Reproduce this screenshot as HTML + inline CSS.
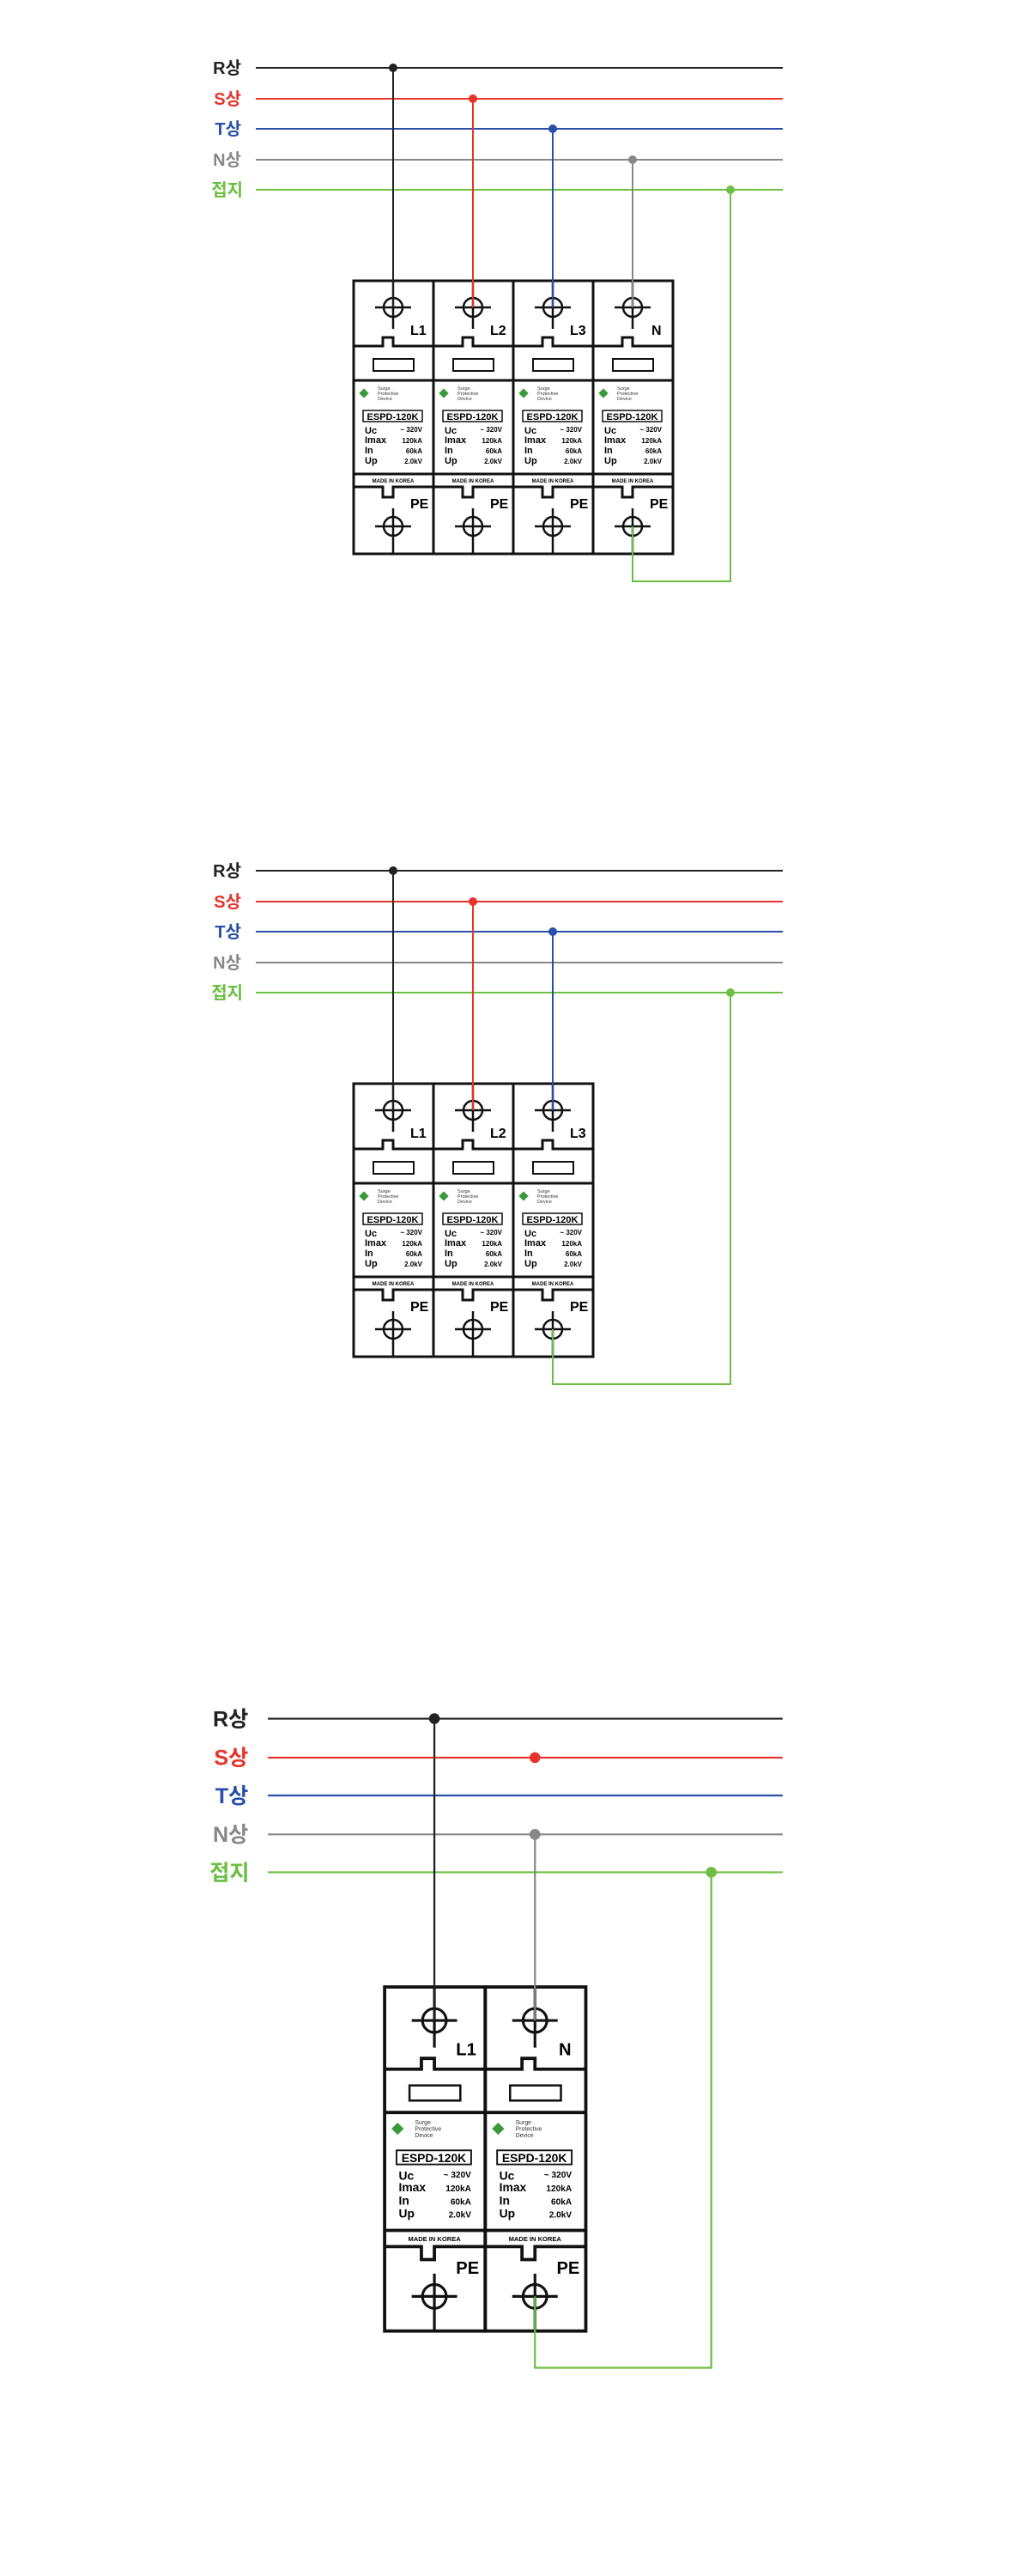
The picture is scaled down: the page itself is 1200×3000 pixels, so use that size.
<!DOCTYPE html>
<html><head><meta charset="utf-8"><style>
html,body{margin:0;padding:0;background:#fff;}
svg{display:block}
.lb{font-family:"Liberation Sans","Noto Sans CJK KR",sans-serif;font-weight:bold;font-size:20px}
.n{font-family:"Liberation Sans Narrow","Liberation Sans",sans-serif;font-weight:bold}
.m{fill:none;stroke:#111;stroke-width:3}
.t{fill:none;stroke:#111;stroke-width:2.5}
</style></head><body>
<svg width="1200" height="3000" viewBox="0 0 1200 3000" xmlns="http://www.w3.org/2000/svg">

<!-- ============ DIAGRAM 1 ============ -->
<g id="d1">
<text class="lb" x="281" y="86" text-anchor="end" fill="#222">R상</text>
<text class="lb" x="281" y="122" text-anchor="end" fill="#e8332a">S상</text>
<text class="lb" x="281" y="157" text-anchor="end" fill="#2a4fa8">T상</text>
<text class="lb" x="281" y="193" text-anchor="end" fill="#888">N상</text>
<text class="lb" x="283" y="228" text-anchor="end" fill="#6cbf42">접지</text>
<line x1="298" y1="79" x2="912" y2="79" stroke="#222" stroke-width="2"/>
<line x1="298" y1="115" x2="912" y2="115" stroke="#e8332a" stroke-width="2"/>
<line x1="298" y1="150" x2="912" y2="150" stroke="#2a4fa8" stroke-width="2"/>
<line x1="298" y1="186" x2="912" y2="186" stroke="#888" stroke-width="2"/>
<line x1="298" y1="221" x2="912" y2="221" stroke="#6cbf42" stroke-width="2"/>
</g>

<!-- module template repeated -->
<g transform="translate(412,327)">
 <rect class="m" x="0" y="0" width="93" height="318"/>
 <path class="m" d="M0 76H34V66H46V76H93"/><line class="m" x1="0" y1="116" x2="93" y2="116"/>
 <line class="m" x1="0" y1="225" x2="93" y2="225"/><path class="m" d="M0 240H34V252H46V240H93"/>
 <circle class="t" cx="46" cy="31" r="11"/><line class="t" x1="46" y1="0" x2="46" y2="56"/><line class="t" x1="25" y1="31" x2="67" y2="31"/>
 <rect x="23" y="91" width="47" height="14" fill="none" stroke="#111" stroke-width="2"/>
 <text class="n" x="66" y="63" font-size="16">L1</text>
 <rect x="8" y="127" width="8" height="8" fill="#3a9a3a" transform="rotate(45 12 131)"/>
 <text x="28" y="127" font-size="5.5" font-family="Liberation Sans" fill="#333">Surge</text><text x="28" y="133" font-size="5.5" font-family="Liberation Sans" fill="#333">Protective</text><text x="28" y="139" font-size="5.5" font-family="Liberation Sans" fill="#333">Device</text>
 <rect x="11" y="151" width="69" height="13" fill="none" stroke="#111" stroke-width="1.5"/><text class="n" x="45.5" y="162" font-size="11" text-anchor="middle" font-weight="normal">ESPD-120K</text>
 <g class="n" font-size="11" font-weight="normal"><text x="13" y="178">Uc</text><text x="13" y="189">Imax</text><text x="13" y="201">In</text><text x="13" y="213">Up</text></g>
 <g class="n" font-size="8" text-anchor="end" font-weight="normal"><text x="80" y="176">~ 320V</text><text x="80" y="189">120kA</text><text x="80" y="201">60kA</text><text x="80" y="213">2.0kV</text></g>
 <text class="n" x="46" y="235" font-size="6" text-anchor="middle">MADE IN KOREA</text>
 <text class="n" x="66" y="265" font-size="16">PE</text>
 <circle class="t" cx="46" cy="286" r="11"/><line class="t" x1="46" y1="265" x2="46" y2="318"/><line class="t" x1="25" y1="286" x2="67" y2="286"/>
</g>
<g transform="translate(505,327)">
 <rect class="m" x="0" y="0" width="93" height="318"/>
 <path class="m" d="M0 76H34V66H46V76H93"/><line class="m" x1="0" y1="116" x2="93" y2="116"/>
 <line class="m" x1="0" y1="225" x2="93" y2="225"/><path class="m" d="M0 240H34V252H46V240H93"/>
 <circle class="t" cx="46" cy="31" r="11"/><line class="t" x1="46" y1="0" x2="46" y2="56"/><line class="t" x1="25" y1="31" x2="67" y2="31"/>
 <rect x="23" y="91" width="47" height="14" fill="none" stroke="#111" stroke-width="2"/>
 <text class="n" x="66" y="63" font-size="16">L2</text>
 <rect x="8" y="127" width="8" height="8" fill="#3a9a3a" transform="rotate(45 12 131)"/>
 <text x="28" y="127" font-size="5.5" font-family="Liberation Sans" fill="#333">Surge</text><text x="28" y="133" font-size="5.5" font-family="Liberation Sans" fill="#333">Protective</text><text x="28" y="139" font-size="5.5" font-family="Liberation Sans" fill="#333">Device</text>
 <rect x="11" y="151" width="69" height="13" fill="none" stroke="#111" stroke-width="1.5"/><text class="n" x="45.5" y="162" font-size="11" text-anchor="middle" font-weight="normal">ESPD-120K</text>
 <g class="n" font-size="11" font-weight="normal"><text x="13" y="178">Uc</text><text x="13" y="189">Imax</text><text x="13" y="201">In</text><text x="13" y="213">Up</text></g>
 <g class="n" font-size="8" text-anchor="end" font-weight="normal"><text x="80" y="176">~ 320V</text><text x="80" y="189">120kA</text><text x="80" y="201">60kA</text><text x="80" y="213">2.0kV</text></g>
 <text class="n" x="46" y="235" font-size="6" text-anchor="middle">MADE IN KOREA</text>
 <text class="n" x="66" y="265" font-size="16">PE</text>
 <circle class="t" cx="46" cy="286" r="11"/><line class="t" x1="46" y1="265" x2="46" y2="318"/><line class="t" x1="25" y1="286" x2="67" y2="286"/>
</g>
<g transform="translate(598,327)">
 <rect class="m" x="0" y="0" width="93" height="318"/>
 <path class="m" d="M0 76H34V66H46V76H93"/><line class="m" x1="0" y1="116" x2="93" y2="116"/>
 <line class="m" x1="0" y1="225" x2="93" y2="225"/><path class="m" d="M0 240H34V252H46V240H93"/>
 <circle class="t" cx="46" cy="31" r="11"/><line class="t" x1="46" y1="0" x2="46" y2="56"/><line class="t" x1="25" y1="31" x2="67" y2="31"/>
 <rect x="23" y="91" width="47" height="14" fill="none" stroke="#111" stroke-width="2"/>
 <text class="n" x="66" y="63" font-size="16">L3</text>
 <rect x="8" y="127" width="8" height="8" fill="#3a9a3a" transform="rotate(45 12 131)"/>
 <text x="28" y="127" font-size="5.5" font-family="Liberation Sans" fill="#333">Surge</text><text x="28" y="133" font-size="5.5" font-family="Liberation Sans" fill="#333">Protective</text><text x="28" y="139" font-size="5.5" font-family="Liberation Sans" fill="#333">Device</text>
 <rect x="11" y="151" width="69" height="13" fill="none" stroke="#111" stroke-width="1.5"/><text class="n" x="45.5" y="162" font-size="11" text-anchor="middle" font-weight="normal">ESPD-120K</text>
 <g class="n" font-size="11" font-weight="normal"><text x="13" y="178">Uc</text><text x="13" y="189">Imax</text><text x="13" y="201">In</text><text x="13" y="213">Up</text></g>
 <g class="n" font-size="8" text-anchor="end" font-weight="normal"><text x="80" y="176">~ 320V</text><text x="80" y="189">120kA</text><text x="80" y="201">60kA</text><text x="80" y="213">2.0kV</text></g>
 <text class="n" x="46" y="235" font-size="6" text-anchor="middle">MADE IN KOREA</text>
 <text class="n" x="66" y="265" font-size="16">PE</text>
 <circle class="t" cx="46" cy="286" r="11"/><line class="t" x1="46" y1="265" x2="46" y2="318"/><line class="t" x1="25" y1="286" x2="67" y2="286"/>
</g>
<g transform="translate(691,327)">
 <rect class="m" x="0" y="0" width="93" height="318"/>
 <path class="m" d="M0 76H34V66H46V76H93"/><line class="m" x1="0" y1="116" x2="93" y2="116"/>
 <line class="m" x1="0" y1="225" x2="93" y2="225"/><path class="m" d="M0 240H34V252H46V240H93"/>
 <circle class="t" cx="46" cy="31" r="11"/><line class="t" x1="46" y1="0" x2="46" y2="56"/><line class="t" x1="25" y1="31" x2="67" y2="31"/>
 <rect x="23" y="91" width="47" height="14" fill="none" stroke="#111" stroke-width="2"/>
 <text class="n" x="68" y="63" font-size="16">N</text>
 <rect x="8" y="127" width="8" height="8" fill="#3a9a3a" transform="rotate(45 12 131)"/>
 <text x="28" y="127" font-size="5.5" font-family="Liberation Sans" fill="#333">Surge</text><text x="28" y="133" font-size="5.5" font-family="Liberation Sans" fill="#333">Protective</text><text x="28" y="139" font-size="5.5" font-family="Liberation Sans" fill="#333">Device</text>
 <rect x="11" y="151" width="69" height="13" fill="none" stroke="#111" stroke-width="1.5"/><text class="n" x="45.5" y="162" font-size="11" text-anchor="middle" font-weight="normal">ESPD-120K</text>
 <g class="n" font-size="11" font-weight="normal"><text x="13" y="178">Uc</text><text x="13" y="189">Imax</text><text x="13" y="201">In</text><text x="13" y="213">Up</text></g>
 <g class="n" font-size="8" text-anchor="end" font-weight="normal"><text x="80" y="176">~ 320V</text><text x="80" y="189">120kA</text><text x="80" y="201">60kA</text><text x="80" y="213">2.0kV</text></g>
 <text class="n" x="46" y="235" font-size="6" text-anchor="middle">MADE IN KOREA</text>
 <text class="n" x="66" y="265" font-size="16">PE</text>
 <circle class="t" cx="46" cy="286" r="11"/><line class="t" x1="46" y1="265" x2="46" y2="318"/><line class="t" x1="25" y1="286" x2="67" y2="286"/>
</g>
<g fill="none" stroke-width="2">
<line x1="458" y1="79" x2="458" y2="358" stroke="#222"/>
<line x1="551" y1="115" x2="551" y2="358" stroke="#e8332a"/>
<line x1="644" y1="150" x2="644" y2="358" stroke="#2a4fa8"/>
<line x1="737" y1="186" x2="737" y2="358" stroke="#888"/>
<path d="M737 613V677H851V221" stroke="#6cbf42"/>
</g>
<circle cx="458" cy="79" r="5" fill="#222"/><circle cx="551" cy="115" r="5" fill="#e8332a"/><circle cx="644" cy="150" r="5" fill="#2a4fa8"/><circle cx="737" cy="186" r="5" fill="#888"/><circle cx="851" cy="221" r="5" fill="#6cbf42"/>

<!-- ============ DIAGRAM 2 ============ -->
<g transform="translate(0,935)">
<text class="lb" x="281" y="86" text-anchor="end" fill="#222">R상</text>
<text class="lb" x="281" y="122" text-anchor="end" fill="#e8332a">S상</text>
<text class="lb" x="281" y="157" text-anchor="end" fill="#2a4fa8">T상</text>
<text class="lb" x="281" y="193" text-anchor="end" fill="#888">N상</text>
<text class="lb" x="283" y="228" text-anchor="end" fill="#6cbf42">접지</text>
<line x1="298" y1="79" x2="912" y2="79" stroke="#222" stroke-width="2"/>
<line x1="298" y1="115" x2="912" y2="115" stroke="#e8332a" stroke-width="2"/>
<line x1="298" y1="150" x2="912" y2="150" stroke="#2a4fa8" stroke-width="2"/>
<line x1="298" y1="186" x2="912" y2="186" stroke="#888" stroke-width="2"/>
<line x1="298" y1="221" x2="912" y2="221" stroke="#6cbf42" stroke-width="2"/>
<g transform="translate(412,327)">
 <rect class="m" x="0" y="0" width="93" height="318"/>
 <path class="m" d="M0 76H34V66H46V76H93"/><line class="m" x1="0" y1="116" x2="93" y2="116"/>
 <line class="m" x1="0" y1="225" x2="93" y2="225"/><path class="m" d="M0 240H34V252H46V240H93"/>
 <circle class="t" cx="46" cy="31" r="11"/><line class="t" x1="46" y1="0" x2="46" y2="56"/><line class="t" x1="25" y1="31" x2="67" y2="31"/>
 <rect x="23" y="91" width="47" height="14" fill="none" stroke="#111" stroke-width="2"/>
 <text class="n" x="66" y="63" font-size="16">L1</text>
 <rect x="8" y="127" width="8" height="8" fill="#3a9a3a" transform="rotate(45 12 131)"/>
 <text x="28" y="127" font-size="5.5" font-family="Liberation Sans" fill="#333">Surge</text><text x="28" y="133" font-size="5.5" font-family="Liberation Sans" fill="#333">Protective</text><text x="28" y="139" font-size="5.5" font-family="Liberation Sans" fill="#333">Device</text>
 <rect x="11" y="151" width="69" height="13" fill="none" stroke="#111" stroke-width="1.5"/><text class="n" x="45.5" y="162" font-size="11" text-anchor="middle" font-weight="normal">ESPD-120K</text>
 <g class="n" font-size="11" font-weight="normal"><text x="13" y="178">Uc</text><text x="13" y="189">Imax</text><text x="13" y="201">In</text><text x="13" y="213">Up</text></g>
 <g class="n" font-size="8" text-anchor="end" font-weight="normal"><text x="80" y="176">~ 320V</text><text x="80" y="189">120kA</text><text x="80" y="201">60kA</text><text x="80" y="213">2.0kV</text></g>
 <text class="n" x="46" y="235" font-size="6" text-anchor="middle">MADE IN KOREA</text>
 <text class="n" x="66" y="265" font-size="16">PE</text>
 <circle class="t" cx="46" cy="286" r="11"/><line class="t" x1="46" y1="265" x2="46" y2="318"/><line class="t" x1="25" y1="286" x2="67" y2="286"/>
</g>
<g transform="translate(505,327)">
 <rect class="m" x="0" y="0" width="93" height="318"/>
 <path class="m" d="M0 76H34V66H46V76H93"/><line class="m" x1="0" y1="116" x2="93" y2="116"/>
 <line class="m" x1="0" y1="225" x2="93" y2="225"/><path class="m" d="M0 240H34V252H46V240H93"/>
 <circle class="t" cx="46" cy="31" r="11"/><line class="t" x1="46" y1="0" x2="46" y2="56"/><line class="t" x1="25" y1="31" x2="67" y2="31"/>
 <rect x="23" y="91" width="47" height="14" fill="none" stroke="#111" stroke-width="2"/>
 <text class="n" x="66" y="63" font-size="16">L2</text>
 <rect x="8" y="127" width="8" height="8" fill="#3a9a3a" transform="rotate(45 12 131)"/>
 <text x="28" y="127" font-size="5.5" font-family="Liberation Sans" fill="#333">Surge</text><text x="28" y="133" font-size="5.5" font-family="Liberation Sans" fill="#333">Protective</text><text x="28" y="139" font-size="5.5" font-family="Liberation Sans" fill="#333">Device</text>
 <rect x="11" y="151" width="69" height="13" fill="none" stroke="#111" stroke-width="1.5"/><text class="n" x="45.5" y="162" font-size="11" text-anchor="middle" font-weight="normal">ESPD-120K</text>
 <g class="n" font-size="11" font-weight="normal"><text x="13" y="178">Uc</text><text x="13" y="189">Imax</text><text x="13" y="201">In</text><text x="13" y="213">Up</text></g>
 <g class="n" font-size="8" text-anchor="end" font-weight="normal"><text x="80" y="176">~ 320V</text><text x="80" y="189">120kA</text><text x="80" y="201">60kA</text><text x="80" y="213">2.0kV</text></g>
 <text class="n" x="46" y="235" font-size="6" text-anchor="middle">MADE IN KOREA</text>
 <text class="n" x="66" y="265" font-size="16">PE</text>
 <circle class="t" cx="46" cy="286" r="11"/><line class="t" x1="46" y1="265" x2="46" y2="318"/><line class="t" x1="25" y1="286" x2="67" y2="286"/>
</g>
<g transform="translate(598,327)">
 <rect class="m" x="0" y="0" width="93" height="318"/>
 <path class="m" d="M0 76H34V66H46V76H93"/><line class="m" x1="0" y1="116" x2="93" y2="116"/>
 <line class="m" x1="0" y1="225" x2="93" y2="225"/><path class="m" d="M0 240H34V252H46V240H93"/>
 <circle class="t" cx="46" cy="31" r="11"/><line class="t" x1="46" y1="0" x2="46" y2="56"/><line class="t" x1="25" y1="31" x2="67" y2="31"/>
 <rect x="23" y="91" width="47" height="14" fill="none" stroke="#111" stroke-width="2"/>
 <text class="n" x="66" y="63" font-size="16">L3</text>
 <rect x="8" y="127" width="8" height="8" fill="#3a9a3a" transform="rotate(45 12 131)"/>
 <text x="28" y="127" font-size="5.5" font-family="Liberation Sans" fill="#333">Surge</text><text x="28" y="133" font-size="5.5" font-family="Liberation Sans" fill="#333">Protective</text><text x="28" y="139" font-size="5.5" font-family="Liberation Sans" fill="#333">Device</text>
 <rect x="11" y="151" width="69" height="13" fill="none" stroke="#111" stroke-width="1.5"/><text class="n" x="45.5" y="162" font-size="11" text-anchor="middle" font-weight="normal">ESPD-120K</text>
 <g class="n" font-size="11" font-weight="normal"><text x="13" y="178">Uc</text><text x="13" y="189">Imax</text><text x="13" y="201">In</text><text x="13" y="213">Up</text></g>
 <g class="n" font-size="8" text-anchor="end" font-weight="normal"><text x="80" y="176">~ 320V</text><text x="80" y="189">120kA</text><text x="80" y="201">60kA</text><text x="80" y="213">2.0kV</text></g>
 <text class="n" x="46" y="235" font-size="6" text-anchor="middle">MADE IN KOREA</text>
 <text class="n" x="66" y="265" font-size="16">PE</text>
 <circle class="t" cx="46" cy="286" r="11"/><line class="t" x1="46" y1="265" x2="46" y2="318"/><line class="t" x1="25" y1="286" x2="67" y2="286"/>
</g>
<g fill="none" stroke-width="2">
<line x1="458" y1="79" x2="458" y2="358" stroke="#222"/>
<line x1="551" y1="115" x2="551" y2="358" stroke="#e8332a"/>
<line x1="644" y1="150" x2="644" y2="358" stroke="#2a4fa8"/>
<path d="M644 613V677H851V221" stroke="#6cbf42"/>
</g>
<circle cx="458" cy="79" r="5" fill="#222"/><circle cx="551" cy="115" r="5" fill="#e8332a"/><circle cx="644" cy="150" r="5" fill="#2a4fa8"/><circle cx="851" cy="221" r="5" fill="#6cbf42"/>
</g>

<!-- ============ DIAGRAM 3 ============ -->
<g transform="translate(-71,1902) scale(1.26)">
<text class="lb" x="286" y="86" text-anchor="end" fill="#222">R상</text>
<text class="lb" x="286" y="122" text-anchor="end" fill="#e8332a">S상</text>
<text class="lb" x="286" y="157" text-anchor="end" fill="#2a4fa8">T상</text>
<text class="lb" x="286" y="193" text-anchor="end" fill="#888">N상</text>
<text class="lb" x="287" y="228" text-anchor="end" fill="#6cbf42">접지</text>
<line x1="304" y1="79" x2="780" y2="79" stroke="#222" stroke-width="1.7"/>
<line x1="304" y1="115" x2="780" y2="115" stroke="#e8332a" stroke-width="1.7"/>
<line x1="304" y1="150" x2="780" y2="150" stroke="#2a4fa8" stroke-width="1.7"/>
<line x1="304" y1="186" x2="780" y2="186" stroke="#888" stroke-width="1.7"/>
<line x1="304" y1="221" x2="780" y2="221" stroke="#6cbf42" stroke-width="1.7"/>
<g transform="translate(412,327)">
 <rect class="m" x="0" y="0" width="93" height="318"/>
 <path class="m" d="M0 76H34V66H46V76H93"/><line class="m" x1="0" y1="116" x2="93" y2="116"/>
 <line class="m" x1="0" y1="225" x2="93" y2="225"/><path class="m" d="M0 240H34V252H46V240H93"/>
 <circle class="t" cx="46" cy="31" r="11"/><line class="t" x1="46" y1="0" x2="46" y2="56"/><line class="t" x1="25" y1="31" x2="67" y2="31"/>
 <rect x="23" y="91" width="47" height="14" fill="none" stroke="#111" stroke-width="2"/>
 <text class="n" x="66" y="63" font-size="16">L1</text>
 <rect x="8" y="127" width="8" height="8" fill="#3a9a3a" transform="rotate(45 12 131)"/>
 <text x="28" y="127" font-size="5.5" font-family="Liberation Sans" fill="#333">Surge</text><text x="28" y="133" font-size="5.5" font-family="Liberation Sans" fill="#333">Protective</text><text x="28" y="139" font-size="5.5" font-family="Liberation Sans" fill="#333">Device</text>
 <rect x="11" y="151" width="69" height="13" fill="none" stroke="#111" stroke-width="1.5"/><text class="n" x="45.5" y="162" font-size="11" text-anchor="middle" font-weight="normal">ESPD-120K</text>
 <g class="n" font-size="11" font-weight="normal"><text x="13" y="178">Uc</text><text x="13" y="189">Imax</text><text x="13" y="201">In</text><text x="13" y="213">Up</text></g>
 <g class="n" font-size="8" text-anchor="end" font-weight="normal"><text x="80" y="176">~ 320V</text><text x="80" y="189">120kA</text><text x="80" y="201">60kA</text><text x="80" y="213">2.0kV</text></g>
 <text class="n" x="46" y="235" font-size="6" text-anchor="middle">MADE IN KOREA</text>
 <text class="n" x="66" y="265" font-size="16">PE</text>
 <circle class="t" cx="46" cy="286" r="11"/><line class="t" x1="46" y1="265" x2="46" y2="318"/><line class="t" x1="25" y1="286" x2="67" y2="286"/>
</g>
<g transform="translate(505,327)">
 <rect class="m" x="0" y="0" width="93" height="318"/>
 <path class="m" d="M0 76H34V66H46V76H93"/><line class="m" x1="0" y1="116" x2="93" y2="116"/>
 <line class="m" x1="0" y1="225" x2="93" y2="225"/><path class="m" d="M0 240H34V252H46V240H93"/>
 <circle class="t" cx="46" cy="31" r="11"/><line class="t" x1="46" y1="0" x2="46" y2="56"/><line class="t" x1="25" y1="31" x2="67" y2="31"/>
 <rect x="23" y="91" width="47" height="14" fill="none" stroke="#111" stroke-width="2"/>
 <text class="n" x="68" y="63" font-size="16">N</text>
 <rect x="8" y="127" width="8" height="8" fill="#3a9a3a" transform="rotate(45 12 131)"/>
 <text x="28" y="127" font-size="5.5" font-family="Liberation Sans" fill="#333">Surge</text><text x="28" y="133" font-size="5.5" font-family="Liberation Sans" fill="#333">Protective</text><text x="28" y="139" font-size="5.5" font-family="Liberation Sans" fill="#333">Device</text>
 <rect x="11" y="151" width="69" height="13" fill="none" stroke="#111" stroke-width="1.5"/><text class="n" x="45.5" y="162" font-size="11" text-anchor="middle" font-weight="normal">ESPD-120K</text>
 <g class="n" font-size="11" font-weight="normal"><text x="13" y="178">Uc</text><text x="13" y="189">Imax</text><text x="13" y="201">In</text><text x="13" y="213">Up</text></g>
 <g class="n" font-size="8" text-anchor="end" font-weight="normal"><text x="80" y="176">~ 320V</text><text x="80" y="189">120kA</text><text x="80" y="201">60kA</text><text x="80" y="213">2.0kV</text></g>
 <text class="n" x="46" y="235" font-size="6" text-anchor="middle">MADE IN KOREA</text>
 <text class="n" x="66" y="265" font-size="16">PE</text>
 <circle class="t" cx="46" cy="286" r="11"/><line class="t" x1="46" y1="265" x2="46" y2="318"/><line class="t" x1="25" y1="286" x2="67" y2="286"/>
</g>
<g fill="none" stroke-width="1.8">
<line x1="458" y1="79" x2="458" y2="358" stroke="#222"/>
<line x1="551" y1="186" x2="551" y2="358" stroke="#888"/>
<path d="M551 613V679H714V221" stroke="#6cbf42"/>
</g>
<circle cx="458" cy="79" r="5" fill="#222"/><circle cx="551" cy="115" r="5" fill="#e8332a"/><circle cx="551" cy="186" r="5" fill="#888"/><circle cx="714" cy="221" r="5" fill="#6cbf42"/>
</g>
</svg>
</body></html>
